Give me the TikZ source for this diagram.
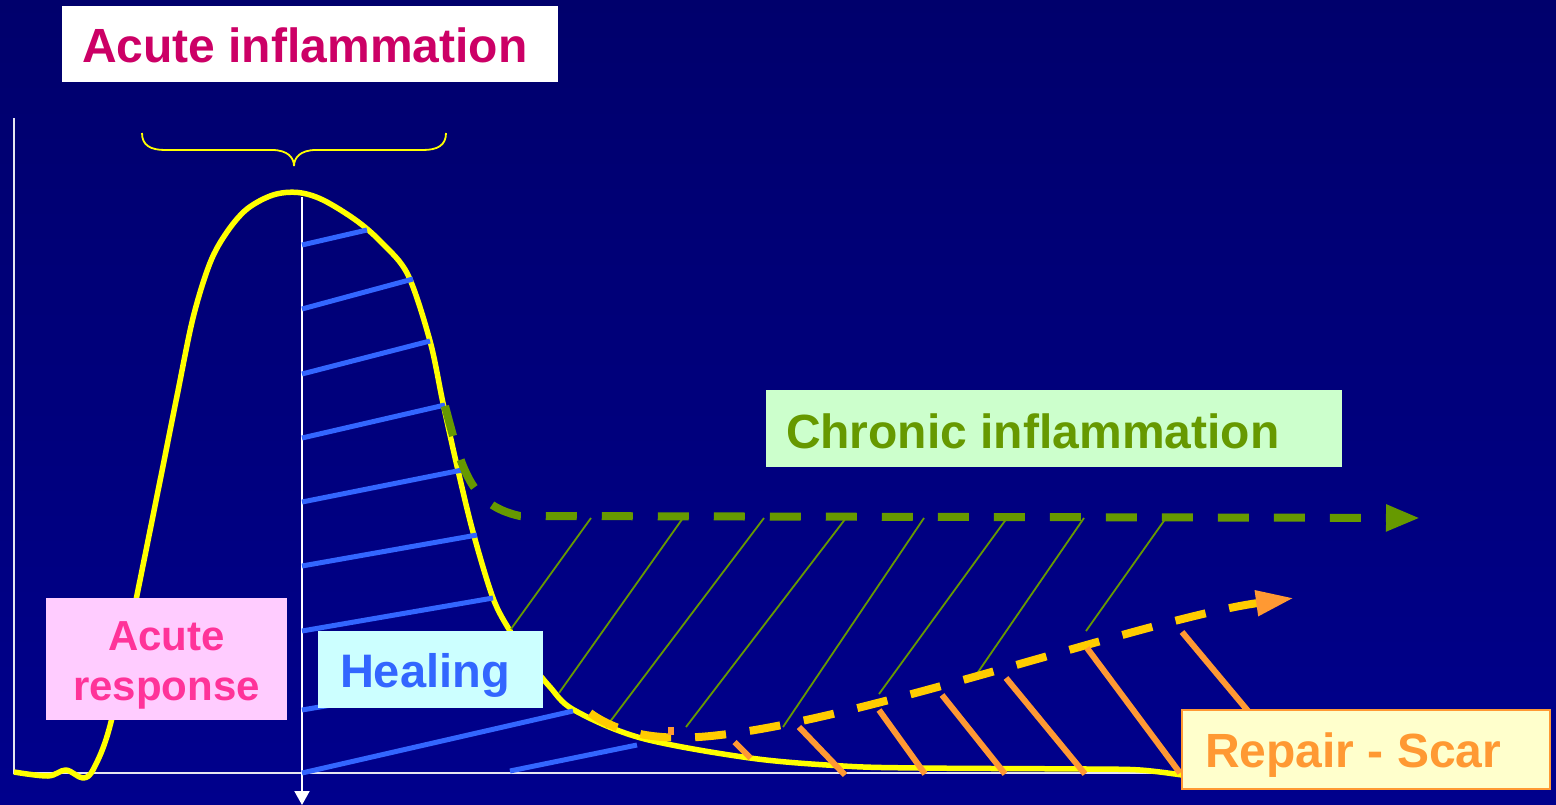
\documentclass[tikz,border=0pt]{standalone}
\usepackage{fontspec}
\setmainfont{Liberation Sans}
\usetikzlibrary{arrows.meta}
\definecolor{bgtop}{RGB}{0,0,108}
\definecolor{bgmid}{RGB}{0,0,158}
\definecolor{bgbot}{RGB}{0,0,140}
\definecolor{titlecol}{HTML}{CC0066}
\definecolor{acfill}{HTML}{FFCCFF}
\definecolor{actext}{HTML}{FF3399}
\definecolor{healfill}{HTML}{CCFFFF}
\definecolor{healblue}{HTML}{3366FF}
\definecolor{chrfill}{HTML}{CCFFCC}
\definecolor{chrgreen}{HTML}{669900}
\definecolor{repfill}{HTML}{FFFFCC}
\definecolor{reporange}{HTML}{FF9933}
\definecolor{dashyellow}{HTML}{FFCC00}
\definecolor{curveyellow}{HTML}{FFFF00}
\definecolor{axiscol}{HTML}{E6E6F0}
\tikzset{
  panel/.style={inner sep=0pt, outer sep=0pt, draw=none, anchor=north west},
  lbl/.style={inner sep=0pt, outer sep=0pt, font=\fontsize{48}{50}\selectfont\bfseries},
  axisline/.style={draw=axiscol, line width=2pt},
  bluehatch/.style={draw=healblue, line width=5pt},
  greenthin/.style={draw=chrgreen, line width=1.8pt},
  orangehatch/.style={draw=reporange, line width=6pt},
}
\begin{document}
\begin{tikzpicture}[x=1pt,y=-1pt]
\useasboundingbox (0,0) rectangle (1556,805);
\shade[top color=bgtop, middle color=bgmid, bottom color=bgbot] (0,0) rectangle (1556,805);

% axes
\coordinate (yaxtop) at (14,118);
\coordinate (origin) at (14,773);
\coordinate (xaxend) at (1182,773);
\draw[axisline] (yaxtop) -- (origin) -- (xaxend);
\coordinate (peaktop) at (302,197);
\coordinate (peakbot) at (302,805);
\draw[axisline, -{Triangle[length=14pt,width=15pt]}, draw=white, fill=white] (peaktop) -- (peakbot);

% main curve
\draw[curveyellow, line width=5.5pt, line join=round] plot[smooth, tension=0.55] coordinates {
 (14,772) (48,776) (66,770) (83,778) (94,768) (111,722) (136,600) (160,481) (177,396)
 (193,318) (210,263) (227,232) (247,209) (273,195) (298,192.5) (323,200) (357,221)
 (383,244) (408,275) (430,341) (443,403) (457,466) (473,532) (493,598) (510,631)
 (530,662) (550,687) (574,710) (641,738) (750,758) (843,766) (919,768) (1087,769)
 (1140,770) (1182,775)};

% brace
\draw[curveyellow, line width=1.8pt]
 (142,133) .. controls (142,145) and (150,150) .. (165,150) -- (272,150)
 .. controls (288,150) and (294,158) .. (294,166)
 .. controls (294,158) and (300,150) .. (316,150) -- (423,150)
 .. controls (438,150) and (446,145) .. (446,133);

% blue hatching (healing)
\draw[bluehatch] (302,245) -- (367,230);
\draw[bluehatch] (302,309) -- (413,279);
\draw[bluehatch] (302,374) -- (430,341);
\draw[bluehatch] (302,438) -- (445,405);
\draw[bluehatch] (302,502) -- (462,470);
\draw[bluehatch] (302,566) -- (477,535);
\draw[bluehatch] (302,631) -- (493,598);
\draw[bluehatch] (302,710) -- (530,671);
\draw[bluehatch] (302,773) -- (573,711);
\draw[bluehatch] (510,771) -- (637,745);

% chronic inflammation dashed arrow
\coordinate (chrstart) at (445,406);
\coordinate (chrend) at (1420,518);
\draw[chrgreen, line width=8pt, dash pattern=on 31pt off 25pt,
  -{Triangle[length=34pt,width=25pt]}]
 (chrstart) .. controls (462,470) and (470,505) .. (520,516) -- (chrend);

% thin green hatching
\draw[greenthin] (591,518) -- (511,629);
\draw[greenthin] (683,518) -- (559,693);
\draw[greenthin] (764,518) -- (606,727);
\draw[greenthin] (846,518) -- (686,727);
\draw[greenthin] (924,518) -- (783,727);
\draw[greenthin] (1007,518) -- (879,694);
\draw[greenthin] (1084,518) -- (974,678);
\draw[greenthin] (1166,518) -- (1086,631);

% repair dashed arrow
\coordinate (repstart) at (590,713);
\coordinate (repend) at (1294,598);
\draw[dashyellow, line width=8pt, dash pattern=on 31pt off 24pt,
  -{Triangle[length=38pt,width=24pt,color=reporange]}]
 (repstart) .. controls (625,738) and (670,741) .. (720,735)
 .. controls (870,718) and (1150,618) .. (repend);

% orange hatching (scar)
\draw[orangehatch] (670.5,727) -- (670.5,735);
\draw[orangehatch] (734.5,742) -- (750.5,758);
\draw[orangehatch] (799,727) -- (845,775);
\draw[orangehatch] (879,710) -- (925,774);
\draw[orangehatch] (942,695) -- (1005,774);
\draw[orangehatch] (1006,678) -- (1085,774);
\draw[orangehatch] (1087,648) -- (1180,773);
\draw[orangehatch] (1182,632) -- (1248,711);

% label boxes
\node[panel, fill=white, minimum width=496pt, minimum height=76pt] (titlebox) at (62,6) {};
\node[lbl, anchor=base west, text=titlecol] (titletext) at (82,63) {Acute inflammation};

\node[panel, fill=acfill, minimum width=241pt, minimum height=122pt] (acbox) at (46,598) {};
\node[inner sep=0pt, anchor=base, align=center, text=actext,
  font=\fontsize{42}{50}\selectfont\bfseries] (actext) at (166.5,700) {Acute\\response};

\node[panel, fill=healfill, minimum width=225pt, minimum height=77pt] (healbox) at (318,631) {};
\node[lbl, anchor=base west, text=healblue, font=\fontsize{47}{50}\selectfont\bfseries] (healtext) at (340,687) {Healing};

\node[panel, fill=chrfill, minimum width=576pt, minimum height=77pt] (chrbox) at (766,390) {};
\node[lbl, anchor=base west, text=chrgreen] (chrtext) at (786,448) {Chronic inflammation};

\node[panel, fill=repfill, draw=reporange, line width=1.5pt, minimum width=368pt, minimum height=79pt] (repbox) at (1182,710) {};
\node[lbl, anchor=base west, text=reporange] (reptext) at (1205,767) {Repair - Scar};
\end{tikzpicture}
\end{document}
